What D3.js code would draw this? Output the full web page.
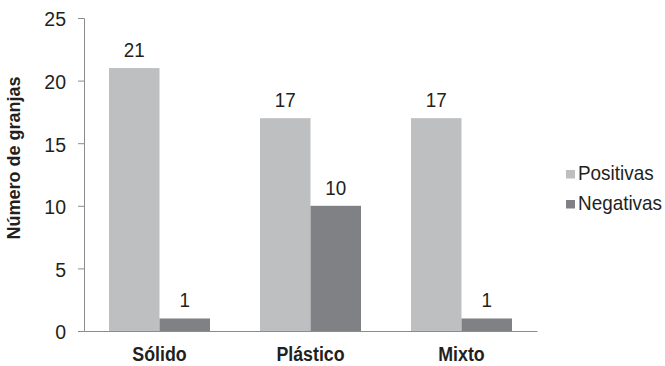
<!DOCTYPE html>
<html><head><meta charset="utf-8">
<script src="https://cdn.jsdelivr.net/npm/d3@7"></script>
<style>
body{margin:0;background:#fff;}
svg text{font-family:"Liberation Sans","Arial",sans-serif;fill:#231f20;}
</style></head>
<body><svg id="c" width="665" height="366"></svg>
<script>
const categories = ["Sólido", "Plástico", "Mixto"];
const seriesNames = ["Positivas", "Negativas"];
const positivas = [21, 17, 17];
const negativas = [1, 10, 1];
const yTicks = [0, 5, 10, 15, 20, 25];
const colors = ["#bebfc1", "#808184"];

(function () {
const svg = d3.select("#c");
const mLeft = 84, mRight = 537, mTop = 18, mBottom = 331;
const x0 = d3.scaleBand().domain(categories).range([mLeft, mRight]).paddingInner(0.331).paddingOuter(0.1655);
const x1 = d3.scaleBand().domain(seriesNames).range([0, x0.bandwidth()]);
const y = d3.scaleLinear().domain([0, 25]).range([mBottom, mTop]);

const data = categories.map((c, i) => ({cat: c, vals: [positivas[i], negativas[i]]}));

// y axis
const yAxis = svg.append("g").attr("transform", `translate(${mLeft},0)`)
  .call(d3.axisLeft(y).tickValues(yTicks).tickSize(6).tickPadding(12).tickFormat(d3.format("d")));
yAxis.select(".domain").attr("stroke", "#8c8c8c");
yAxis.selectAll(".tick line").attr("stroke", "#8c8c8c");
yAxis.selectAll(".tick text").attr("font-size", 19.5).style("font-family", '"Liberation Sans",sans-serif')
  .attr("fill", "#231f20").attr("dy", "0.4em");

// bars
const g = svg.append("g");
data.forEach(d => {
  d.vals.forEach((v, j) => {
    const xx = x0(d.cat) + x1(seriesNames[j]);
    g.append("rect").attr("x", xx).attr("y", y(v)).attr("width", x1.bandwidth()).attr("height", y(0) - y(v)).attr("fill", colors[j]);
    g.append("text").attr("transform", `translate(${xx + x1.bandwidth() / 2},${y(v) - 11}) scale(0.92,1)`)
      .attr("text-anchor", "middle").attr("font-size", 20.5).text(v);
  });
});

// x axis
const xAxis = svg.append("g").attr("transform", `translate(0,${mBottom})`)
  .call(d3.axisBottom(x0).tickSize(0).tickPadding(16).tickSizeOuter(0));
xAxis.select(".domain").attr("stroke", "#8c8c8c");
xAxis.selectAll(".tick text").attr("font-size", 20).attr("font-weight", "bold")
  .style("font-family", '"Liberation Sans",sans-serif').attr("fill", "#231f20").attr("dy", "0.71em")
  .attr("transform", "scale(0.89,1)");

// y title
svg.append("text").attr("transform", "translate(20,158) rotate(-90)")
  .attr("text-anchor", "middle").attr("font-size", 18).attr("font-weight", "bold").text("Número de granjas");

// legend
const leg = svg.append("g");
seriesNames.forEach((s, i) => {
  const yy = 170 + i * 30;
  leg.append("rect").attr("x", 566).attr("y", yy).attr("width", 9).attr("height", 8.5).attr("fill", colors[i]);
  leg.append("text").attr("transform", `translate(578,${yy + 10}) scale(0.97,1)`).attr("font-size", 19.5).text(s);
});
})();
</script></body></html>
